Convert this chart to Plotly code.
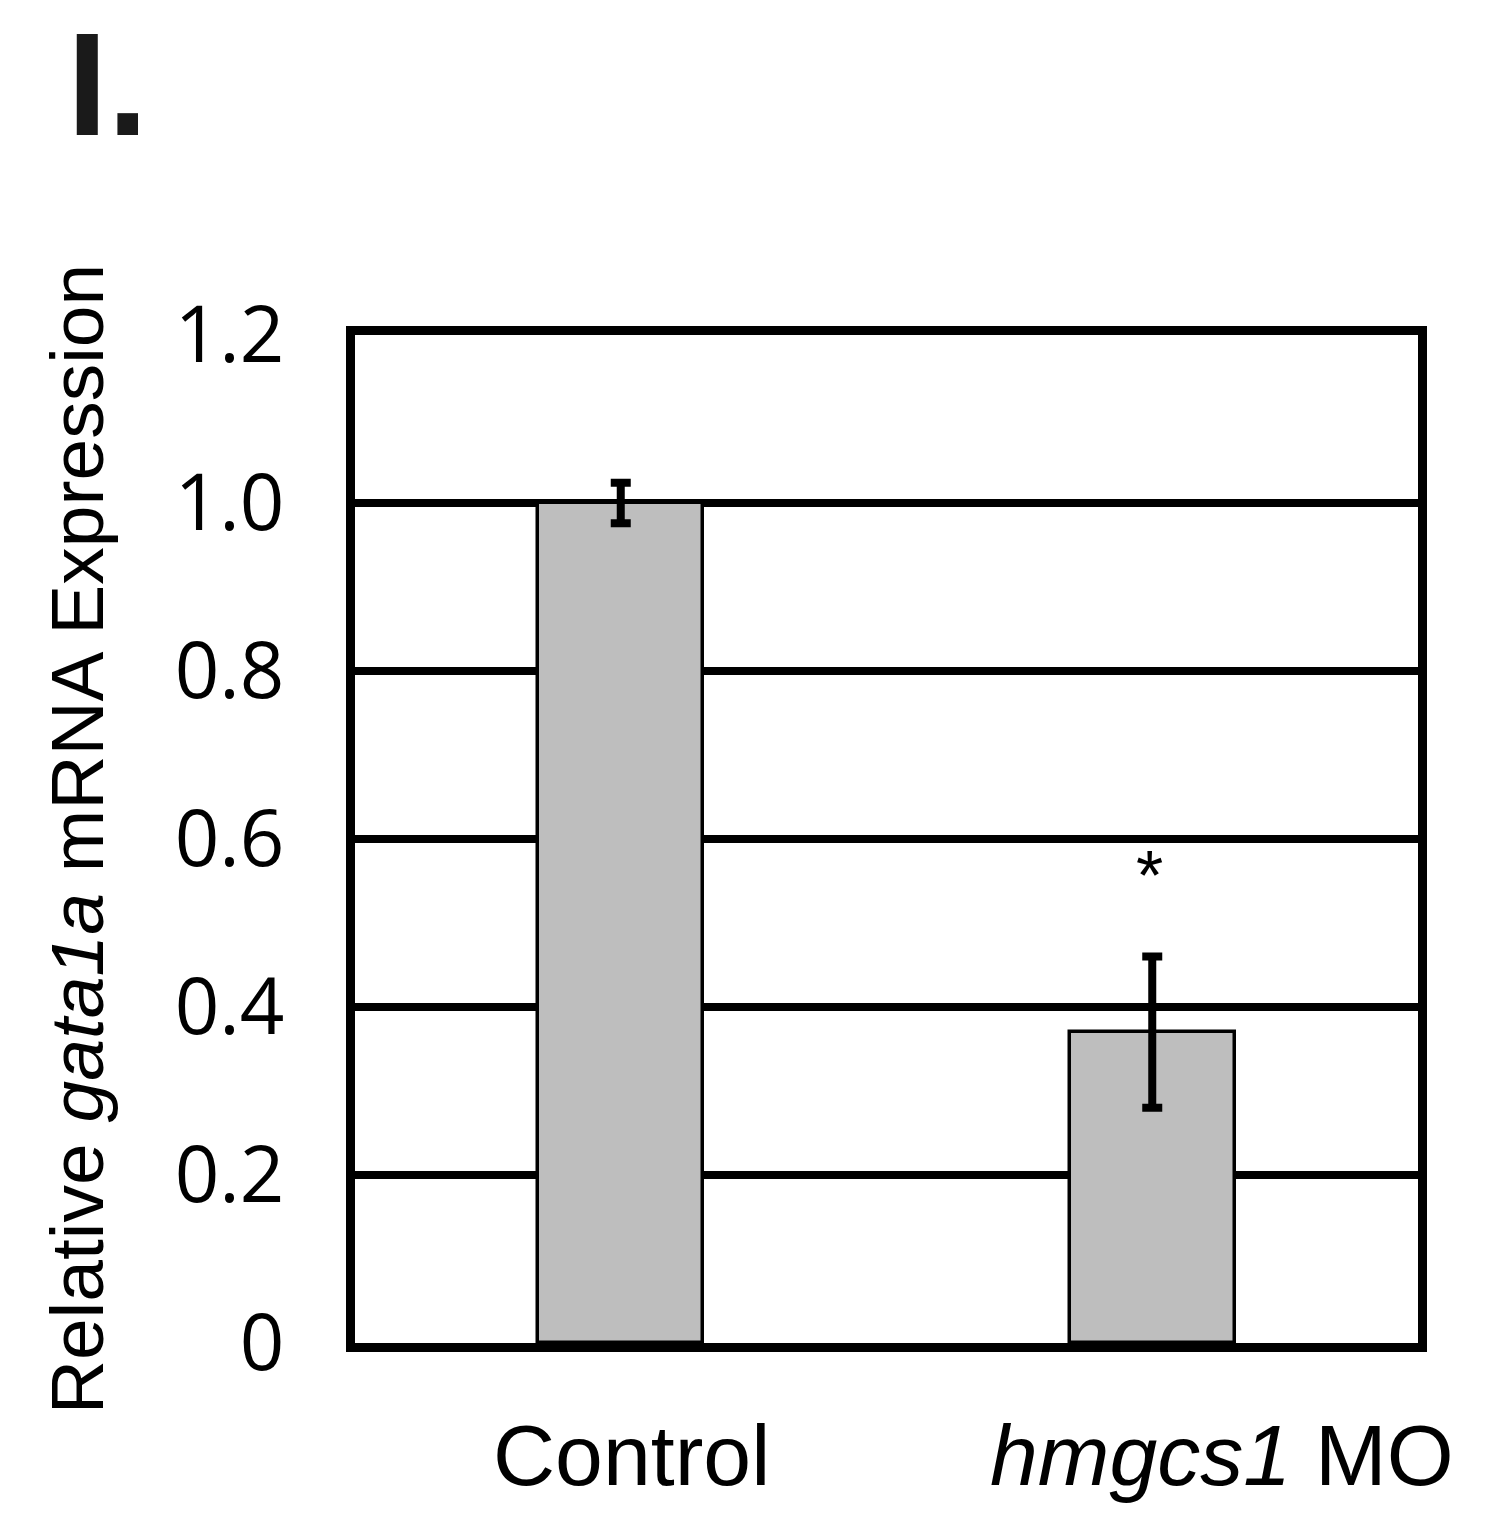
import plotly.graph_objects as go

categories = ["Control", "hmgcs1 MO"]
category_labels = ["Control", "<i>hmgcs1</i> MO"]
values = [1.0, 0.37]
errors = [0.024, 0.09]
significance = ["", "*"]
tick_vals = [0, 0.2, 0.4, 0.6, 0.8, 1.0, 1.2]
tick_text = ["0", "0.2", "0.4", "0.6", "0.8", "1.0", "1.2"]

fig = go.Figure()
fig.add_trace(go.Bar(
    x=categories, y=values, width=0.31,
    marker=dict(color="#bebebe", line=dict(color="black", width=3.5)),
    error_y=dict(type="data", array=errors, visible=True, color="black", thickness=8, width=10),
    showlegend=False,
))

annotations = []
xshifts = [11, 70]
for cat, lab, xs in zip(categories, category_labels, xshifts):
    annotations.append(dict(x=cat, y=0, xref="x", yref="y", text=lab, showarrow=False,
                            yanchor="top", yshift=-62, xshift=xs,
                            font=dict(family="Liberation Sans", size=86, color="black")))
for cat, v, e, s in zip(categories, values, errors, significance):
    if s:
        annotations.append(dict(x=cat, y=v + e, xref="x", yref="y", text=s, showarrow=False,
                                yanchor="bottom", yshift=40, xshift=-3,
                                font=dict(family="Liberation Sans", size=70, color="black")))
annotations.append(dict(x=0, y=1, xref="paper", yref="paper", text="<b>I.</b>", showarrow=False,
                        xanchor="left", yanchor="top", xshift=-290, yshift=334,
                        font=dict(family="Liberation Sans", size=146, color="#1a1a1a")))

fig.update_layout(
    width=1512, height=1517,
    margin=dict(l=355, r=94, t=335, b=174, autoexpand=False),
    paper_bgcolor="white", plot_bgcolor="white",
    bargap=0,
    annotations=annotations,
    xaxis=dict(range=[-0.5, 1.5], showticklabels=False, ticks="", showgrid=False,
               showline=True, mirror=True, linecolor="black", linewidth=9, zeroline=False),
    yaxis=dict(range=[0, 1.2], tickvals=tick_vals, ticktext=tick_text,
               ticks="outside", ticklen=0, ticklabelstandoff=46,
               tickfont=dict(family="Open Sans", size=78, color="black"),
               showgrid=True, gridcolor="black", gridwidth=8,
               showline=True, mirror=True, linecolor="black", linewidth=9, zeroline=False,
               title=dict(text="Relative <i>gata1a</i> mRNA Expression", standoff=50,
                          font=dict(family="Liberation Sans", size=75, color="black"))),
)

fig.write_html("out.html")
